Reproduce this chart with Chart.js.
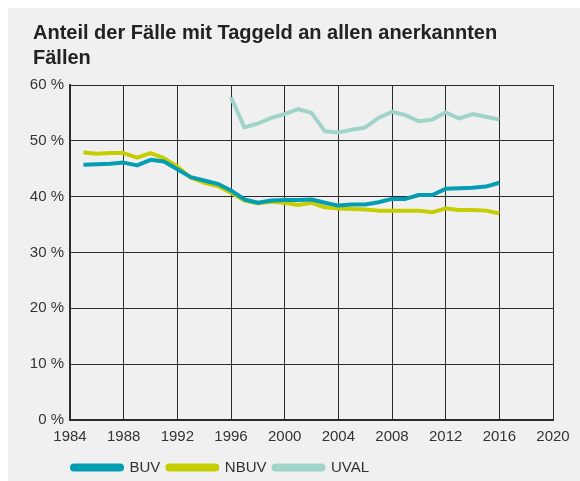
<!DOCTYPE html>
<html lang="de">
<head>
<meta charset="utf-8">
<title>Anteil der Fälle mit Taggeld</title>
<script src="https://cdn.jsdelivr.net/npm/chart.js@4/dist/chart.umd.min.js"></script>
<style>
  html, body { margin: 0; padding: 0; background: #fff; }
  .panel {
    position: absolute;
    left: 8px; top: 8px;
    width: 572px; height: 473px;
    background: #f0f0f0;
  }
</style>
</head>
<body>
<div class="panel">
  <canvas id="chart" width="572" height="473"></canvas>
</div>
<script>
// Jahre und Werte (in %)
const years = [1985, 1986, 1987, 1988, 1989, 1990, 1991, 1992, 1993, 1994, 1995, 1996,
  1997, 1998, 1999, 2000, 2001, 2002, 2003, 2004, 2005, 2006, 2007, 2008, 2009, 2010,
  2011, 2012, 2013, 2014, 2015, 2016];

const buv = [45.7, 45.8, 45.9, 46.1, 45.6, 46.6, 46.3, 44.9, 43.5, 42.9, 42.3, 41.1,
  39.5, 38.9, 39.3, 39.4, 39.4, 39.5, 38.9, 38.4, 38.6, 38.6, 39.0, 39.6, 39.6, 40.3,
  40.3, 41.4, 41.5, 41.6, 41.8, 42.5];

const nbuv = [47.9, 47.7, 47.8, 47.8, 47.0, 47.8, 46.9, 45.4, 43.4, 42.5, 41.9, 40.7,
  39.3, 38.8, 39.1, 38.9, 38.5, 38.9, 38.1, 37.9, 37.8, 37.7, 37.5, 37.5, 37.5, 37.5,
  37.2, 37.9, 37.6, 37.6, 37.5, 37.0];

// UVAL erst ab 1996
const uvalYears = [1996, 1997, 1998, 1999, 2000, 2001, 2002, 2003, 2004, 2005, 2006,
  2007, 2008, 2009, 2010, 2011, 2012, 2013, 2014, 2015, 2016];
const uval = [57.8, 52.4, 53.1, 54.1, 54.8, 55.7, 55.0, 51.7, 51.5, 52.0, 52.4,
  54.1, 55.2, 54.6, 53.5, 53.8, 55.1, 54.0, 54.8, 54.3, 53.8];

const titleLines = ['Anteil der Fälle mit Taggeld an allen anerkannten', 'Fällen'];

function toPoints(xs, ys) {
  return xs.map((x, i) => ({ x: x, y: ys[i] }));
}

function lineSet(label, xs, ys, color) {
  return {
    label: label,
    data: toPoints(xs, ys),
    borderColor: color,
    backgroundColor: color,
    borderWidth: 4,
    pointRadius: 0,
    tension: 0,
    borderJoinStyle: 'round',
    fill: false
  };
}

// Titel und Legende nachträglich verschieben
const boxShift = {
  id: 'boxShift',
  afterLayout(chart) {
    const t = chart.titleBlock;
    if (t) {
      t.left += 5;
      t.right += 5;
    }
    const lg = chart.legend;
    const dx = chart.chartArea.left - 5 - lg.left;
    lg.left += dx;
    lg.right += dx;
    lg.top += 4;
    lg.bottom += 4;
  }
};

Chart.defaults.font.family = '"Liberation Sans", Arial, Helvetica, sans-serif';
Chart.defaults.color = '#333';

const ctx = document.getElementById('chart').getContext('2d');
new Chart(ctx, {
  type: 'line',
  data: {
    datasets: [
      lineSet('BUV', years, buv, '#049db3'),
      lineSet('NBUV', years, nbuv, '#c6cd00'),
      lineSet('UVAL', uvalYears, uval, '#a0d4ca')
    ]
  },
  options: {
    responsive: false,
    animation: false,
    layout: { padding: { left: 20, right: 27, top: 0, bottom: 0 } },
    scales: {
      x: {
        type: 'linear',
        min: 1984,
        max: 2020,
        ticks: {
          stepSize: 4,
          padding: 8,
          font: { size: 15 },
          color: '#333',
          callback: v => String(v)
        },
        grid: { color: '#2b2b2b', lineWidth: 1, drawTicks: false },
        border: { color: '#2b2b2b', width: 2 },
        afterFit: axis => { axis.height -= 5; }
      },
      y: {
        min: 0,
        max: 60,
        ticks: {
          stepSize: 10,
          padding: 6,
          font: { size: 15 },
          color: '#333',
          callback: v => v + ' %'
        },
        grid: { color: '#2b2b2b', lineWidth: 1, drawTicks: false },
        border: { color: '#2b2b2b', width: 2 },
        afterFit: axis => { axis.width = 42; }
      }
    },
    plugins: {
      title: {
        display: true,
        text: titleLines,
        align: 'start',
        color: '#222',
        font: { size: 20, weight: 'bold', lineHeight: 1.25 },
        padding: { top: 13, bottom: 14 }
      },
      legend: {
        position: 'bottom',
        align: 'start',
        labels: {
          boxWidth: 50,
          boxHeight: 4,
          padding: 7,
          useBorderRadius: true,
          borderRadius: 2,
          color: '#333',
          font: { size: 15 }
        }
      },
      tooltip: { enabled: false }
    }
  },
  plugins: [boxShift]
});
</script>
</body>
</html>
